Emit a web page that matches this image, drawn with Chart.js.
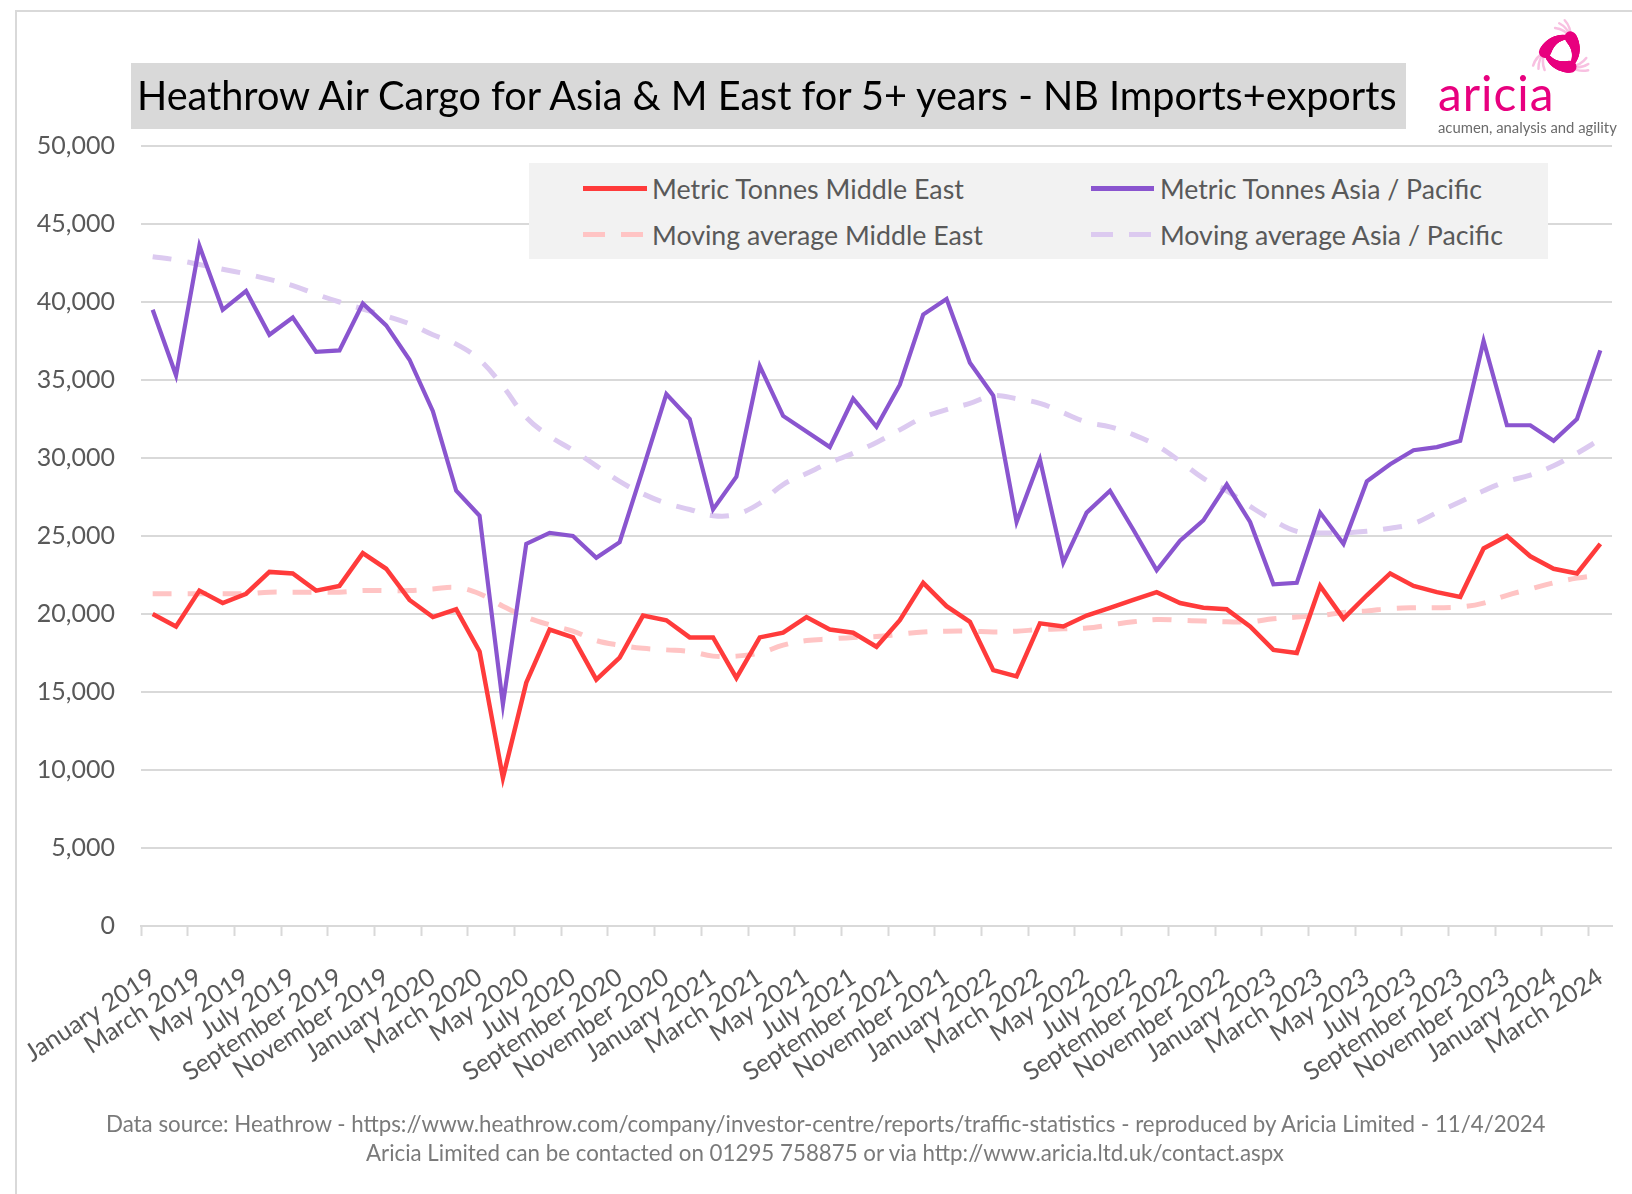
<!DOCTYPE html>
<html>
<head>
<meta charset="utf-8">
<script src="https://cdn.jsdelivr.net/npm/chart.js@4.4.1/dist/chart.umd.min.js"></script>
<style>
html,body{margin:0;padding:0;background:#fff;}
body{width:1632px;height:1194px;position:relative;overflow:hidden;font-family:Lato,"Open Sans",sans-serif;}
#frame{position:absolute;left:15px;top:10px;width:1660px;height:1220px;border:2px solid #d9d9d9;box-sizing:border-box;}
#cv{position:absolute;left:0;top:0;}
.txt{position:absolute;white-space:nowrap;line-height:1;transform:translateY(-50%);}
#titlebox{position:absolute;left:131px;top:63px;width:1275px;height:66px;background:#d9d9d9;}
#legendbox{position:absolute;left:529px;top:163px;width:1019px;height:96px;background:#f2f2f2;}
.sw{position:absolute;height:5px;}
</style>
</head>
<body>
<div id="frame"></div>
<div id="titlebox"></div>
<canvas id="cv" width="1632" height="1194"></canvas>
<div id="legendbox"></div>
<div class="sw" style="left:583px;top:186px;width:64px;background:#ff3b3b;"></div>
<div class="sw" style="left:583px;top:232px;width:22px;background:#ffc4c4;"></div>
<div class="sw" style="left:621px;top:232px;width:22px;background:#ffc4c4;"></div>
<div class="sw" style="left:1091px;top:186px;width:63px;background:#8a55cf;"></div>
<div class="sw" style="left:1091px;top:232px;width:22px;background:#dccaf0;"></div>
<div class="sw" style="left:1129px;top:232px;width:22px;background:#dccaf0;"></div>
<div id="title" class="txt" data-w="1260" style="left:137px;top:95px;font-size:38px;color:#000;">Heathrow Air Cargo for Asia &amp; M East for 5+ years - NB Imports+exports</div>
<div class="txt" data-w="312" style="left:652px;top:189px;font-size:25px;color:#595959;">Metric Tonnes Middle East</div>
<div class="txt" data-w="331" style="left:652px;top:235px;font-size:25px;color:#595959;">Moving average Middle East</div>
<div class="txt" data-w="322" style="left:1160px;top:189px;font-size:25px;color:#595959;">Metric Tonnes Asia / Pacific</div>
<div class="txt" data-w="343" style="left:1160px;top:235px;font-size:25px;color:#595959;">Moving average Asia / Pacific</div>
<div class="txt" data-w="117" style="left:1438px;top:93px;font-size:44px;color:#e8007f;letter-spacing:1px;">aricia</div>
<div class="txt" data-w="179" style="left:1438px;top:127px;font-size:15px;color:#6b6b6b;">acumen, analysis and agility</div>
<div class="txt" data-w="1440" style="left:106px;top:1124px;font-size:21px;color:#7a7a7a;">Data source: Heathrow - https://www.heathrow.com/company/investor-centre/reports/traffic-statistics - reproduced by Aricia Limited - 11/4/2024</div>
<div class="txt" data-w="918" style="left:366px;top:1153px;font-size:21px;color:#7a7a7a;">Aricia Limited can be contacted on 01295 758875 or via http://www.aricia.ltd.uk/contact.aspx</div>
<canvas id="logo" width="80" height="80" style="position:absolute;left:1522px;top:12px;"></canvas>
<script>
// ---- data ----
const monthNames = ["January","February","March","April","May","June","July","August","September","October","November","December"];
const startYear = 2019;
const monthCount = 63; // January 2019 .. March 2024
const categories = [];
for (let i = 0; i < monthCount; i++) {
  categories.push(monthNames[i % 12] + " " + (startYear + Math.floor(i / 12)));
}
const middleEast = [20000,19200,21500,20700,21300,22700,22600,21500,21800,23900,
  22900,20900,19800,20300,17600,9500,15600,19000,18500,15800,
  17200,19900,19600,18500,18500,15900,18500,18800,19800,19000,
  18800,17900,19600,22000,20500,19500,16400,16000,19400,19200,
  19900,20400,20900,21400,20700,20400,20300,19200,17700,17500,
  21800,19700,21200,22600,21800,21400,21100,24200,25000,23700,
  22900,22600,24500];
const asiaPacific = [39500,35300,43600,39500,40700,37900,39000,36800,36900,39900,
  38500,36300,33000,27900,26300,14200,24500,25200,25000,23600,
  24600,29300,34100,32500,26700,28800,35900,32700,31700,30700,
  33800,32000,34700,39200,40200,36100,34000,25900,29900,23300,
  26500,27900,25400,22800,24700,26000,28300,25900,21900,22000,
  26500,24500,28500,29600,30500,30700,31100,37500,32100,32100,
  31100,32500,36900];
const movingAvgMiddleEast = [21300,21300,21300,21300,21300,21400,21400,21400,21400,21500,
  21500,21500,21600,21700,21300,20500,19800,19300,18900,18300,
  18000,17800,17700,17600,17300,17300,17500,18000,18300,18400,
  18500,18550,18700,18850,18900,18900,18850,18900,19000,19050,
  19100,19300,19500,19650,19600,19550,19500,19500,19700,19800,
  19900,20100,20200,20350,20400,20400,20450,20700,21200,21600,
  22000,22300,22500];
const movingAvgAsiaPacific = [42900,42700,42400,42100,41800,41450,41050,40500,40000,39550,
  39100,38600,37900,37300,36300,34600,32600,31400,30500,29500,
  28500,27700,27100,26700,26300,26400,27100,28300,29000,29700,
  30300,31000,31800,32600,33100,33500,34000,33800,33500,32900,
  32300,32000,31500,30800,29800,28700,27900,26900,26000,25300,
  25200,25200,25300,25500,25800,26500,27200,27900,28500,28900,
  29500,30300,31200];
const yMin = 0, yMax = 50000, yStep = 5000;

// ---- text fitting ----
function fitTexts(){
  document.querySelectorAll('.txt[data-w]').forEach(el=>{
    const target = parseFloat(el.dataset.w);
    const fs = parseFloat(el.style.fontSize);
    const w = el.getBoundingClientRect().width;
    if (w > 0) el.style.fontSize = (fs * target / w).toFixed(2) + 'px';
  });
}

// ---- logo swirl ----
function drawLogo(){
  const c = document.getElementById('logo').getContext('2d');
  const cx = 40, cy = 40, r = 17;
  c.lineCap = 'round';
  const angles = [-Math.PI/3, Math.PI/3, Math.PI];
  for (let k = 0; k < 3; k++) {
    const a0 = angles[k], a1 = angles[(k+1)%3];
    const p0 = [cx + r*Math.cos(a0), cy + r*Math.sin(a0)];
    const p1 = [cx + r*Math.cos(a1), cy + r*Math.sin(a1)];
    const am = (a0 + a1)/2 + (k===2 ? Math.PI : 0);
    const ctl = [cx + 1.1*r*Math.cos(am), cy + 1.1*r*Math.sin(am)];
    c.strokeStyle = 'rgba(242,130,195,0.5)';
    c.lineWidth = 2.5;
    for (let f = -1; f <= 1; f++) {
      const ta = a0 - 1.2 + f*0.35;
      c.beginPath();
      c.moveTo(p0[0], p0[1]);
      c.quadraticCurveTo(p0[0] + 10*Math.cos(ta+0.4), p0[1] + 10*Math.sin(ta+0.4), p0[0] + 18*Math.cos(ta), p0[1] + 18*Math.sin(ta));
      c.stroke();
    }
    c.strokeStyle = '#e8007f';
    const N = 24;
    for (let i = 0; i < N; i++) {
      const t0 = i/N, t1 = (i+1)/N;
      const q = (t)=>[(1-t)*(1-t)*p0[0] + 2*(1-t)*t*ctl[0] + t*t*p1[0], (1-t)*(1-t)*p0[1] + 2*(1-t)*t*ctl[1] + t*t*p1[1]];
      const A = q(t0), B = q(t1);
      c.lineWidth = 3 + 9*(1 - t0);
      c.beginPath(); c.moveTo(A[0], A[1]); c.lineTo(B[0], B[1]); c.stroke();
    }
  }
}

function build(){
  fitTexts();
  drawLogo();
  const gridCol = '#d9d9d9';
  new Chart(document.getElementById('cv'), {
    type: 'line',
    data: {
      labels: categories,
      datasets: [
        {label:'Metric Tonnes Middle East', data: middleEast, borderColor:'#ff3b3b', borderWidth:4.5, pointRadius:0, tension:0, order:1},
        {label:'Metric Tonnes Asia / Pacific', data: asiaPacific, borderColor:'#8a55cf', borderWidth:4.2, pointRadius:0, tension:0, order:1},
        {label:'Moving average Middle East', data: movingAvgMiddleEast, borderColor:'#ffc4c4', borderWidth:5, borderDash:[19,16], pointRadius:0, tension:0.4, order:2},
        {label:'Moving average Asia / Pacific', data: movingAvgAsiaPacific, borderColor:'#dccaf0', borderWidth:5, borderDash:[19,16], pointRadius:0, tension:0.4, order:2}
      ]
    },
    options: {
      responsive:false, animation:false, devicePixelRatio:1,
      layout:{padding:{left:0, top:146, right:20, bottom:0}},
      plugins:{legend:{display:false}, tooltip:{enabled:false}},
      scales:{
        x:{
          type:'category', offset:true,
          grid:{offset:true, drawOnChartArea:false, drawTicks:true, tickLength:10, tickWidth:2,
                tickColor:(ctx)=> (ctx.index % 2 === 0) ? gridCol : 'rgba(0,0,0,0)'},
          border:{display:true, color:gridCol, width:2},
          ticks:{autoSkip:false, minRotation:33, maxRotation:33, padding:26, color:'#595959',
                 font:{family:'Lato', size:25},
                 callback:function(v, i){ return i % 2 === 0 ? this.getLabelForValue(v) : ''; }},
          afterFit:(s)=>{ s.height = 268; s.paddingLeft = 0; s.paddingRight = 0; }
        },
        y:{
          min:yMin, max:yMax,
          grid:{color:gridCol, lineWidth:2, drawTicks:false},
          border:{display:false},
          ticks:{stepSize:yStep, padding:26, color:'#595959', font:{family:'Lato', size:25},
                 callback:(v)=> v.toLocaleString('en-US')},
          afterFit:(s)=>{ s.width = 141; }
        }
      }
    }
  });
}
if (document.fonts && document.fonts.ready) { document.fonts.load('24px Lato').then(()=>document.fonts.ready).then(build); }
else build();
</script>
</body>
</html>
